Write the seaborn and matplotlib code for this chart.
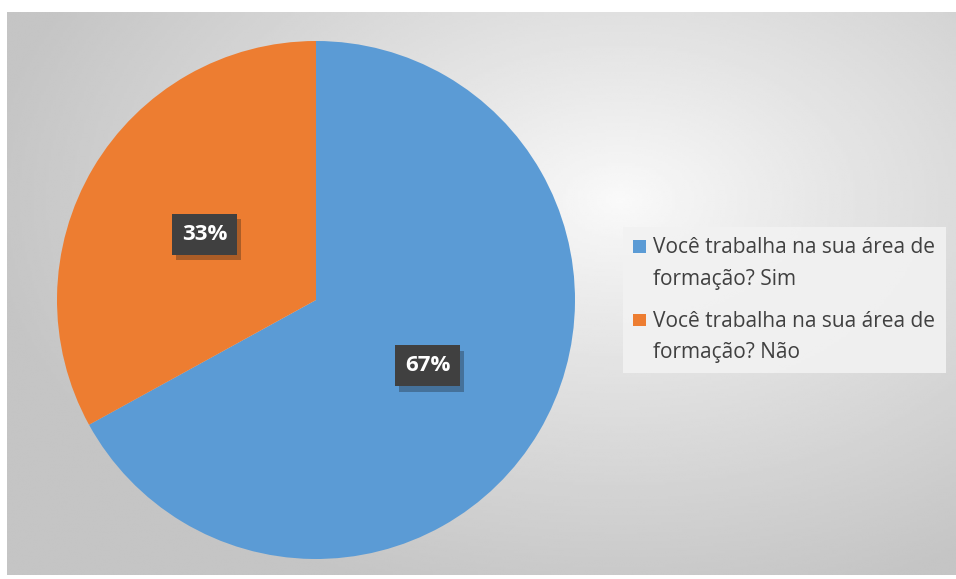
import numpy as np
import matplotlib
matplotlib.use("Agg")
import matplotlib.pyplot as plt
import matplotlib.patheffects as pe
from matplotlib.patches import Patch, Rectangle
from matplotlib.legend_handler import HandlerPatch
import seaborn as sns

# data
categories = ["Você trabalha na sua área de\nformação? Sim",
              "Você trabalha na sua área de\nformação? Não"]
values = [67, 33]

sns.set_style("white")
plt.rcParams["font.family"] = ["Open Sans", "DejaVu Sans"]
colors = sns.color_palette(["#5B9BD5", "#ED7D31"])

W, H = 956, 579
fig = plt.figure(figsize=(W / 100, H / 100), dpi=100)
fig.patch.set_facecolor("white")

# background panel with radial gradient
bg = fig.add_axes([7 / W, 4 / H, 949 / W, 563 / H])
gx, gy = np.meshgrid(np.linspace(7, 956, 400), np.linspace(12, 575, 240))
d = np.sqrt(((gx - 620) / 640) ** 2 + ((gy - 200) / 420) ** 2)
shade = 0.98 - 0.21 * np.clip(d, 0, 1) ** 0.9
bg.imshow(shade, cmap="gray", vmin=0, vmax=1, aspect="auto",
          extent=[0, 1, 0, 1], interpolation="bilinear")
bg.set_axis_off()

# pie
ax = fig.add_axes([57 / W, 20 / H, 518 / W, 518 / H])
wedges, texts, autotexts = ax.pie(values, colors=colors, startangle=90,
                                  counterclock=False, autopct="%1.0f%%",
                                  pctdistance=0.5,
                                  wedgeprops=dict(linewidth=0))
ax.set_xlim(-1, 1)
ax.set_ylim(-1, 1)
ax.set_aspect("equal")

for t in autotexts:
    t.set_color("white")
    t.set_fontsize(16)
    t.set_fontweight("bold")
    t.set_bbox(dict(boxstyle="square,pad=0.45", facecolor="#404040",
                    edgecolor="none"))
    t.get_bbox_patch().set_path_effects(
        [pe.SimplePatchShadow(offset=(3, -4), alpha=0.3), pe.Normal()])


# square marker next to the first line of each entry
def top_square(legend, orig_handle, xdescent, ydescent, width, height, fontsize):
    sq = 8.8
    return Rectangle((-xdescent, -ydescent + height - sq + 3.5), sq, sq)


# legend
handles = [Patch(facecolor=c, edgecolor="none") for c in colors]
leg = fig.legend(handles, categories, loc="upper left",
                 bbox_to_anchor=(623 / W, 1 - 227 / H), borderaxespad=0,
                 fontsize=15, frameon=True, fancybox=False,
                 handlelength=0.6, handleheight=2.6, handletextpad=0.35,
                 labelspacing=1.0, borderpad=0.5, labelcolor="#404040",
                 handler_map={Patch: HandlerPatch(patch_func=top_square)})
for t in leg.get_texts():
    t.set_linespacing(1.65)
leg.get_frame().set_facecolor("#F2F2F2")
leg.get_frame().set_edgecolor("none")
leg.get_frame().set_alpha(0.9)

plt.savefig("out.png", dpi=100)
plt.close()
